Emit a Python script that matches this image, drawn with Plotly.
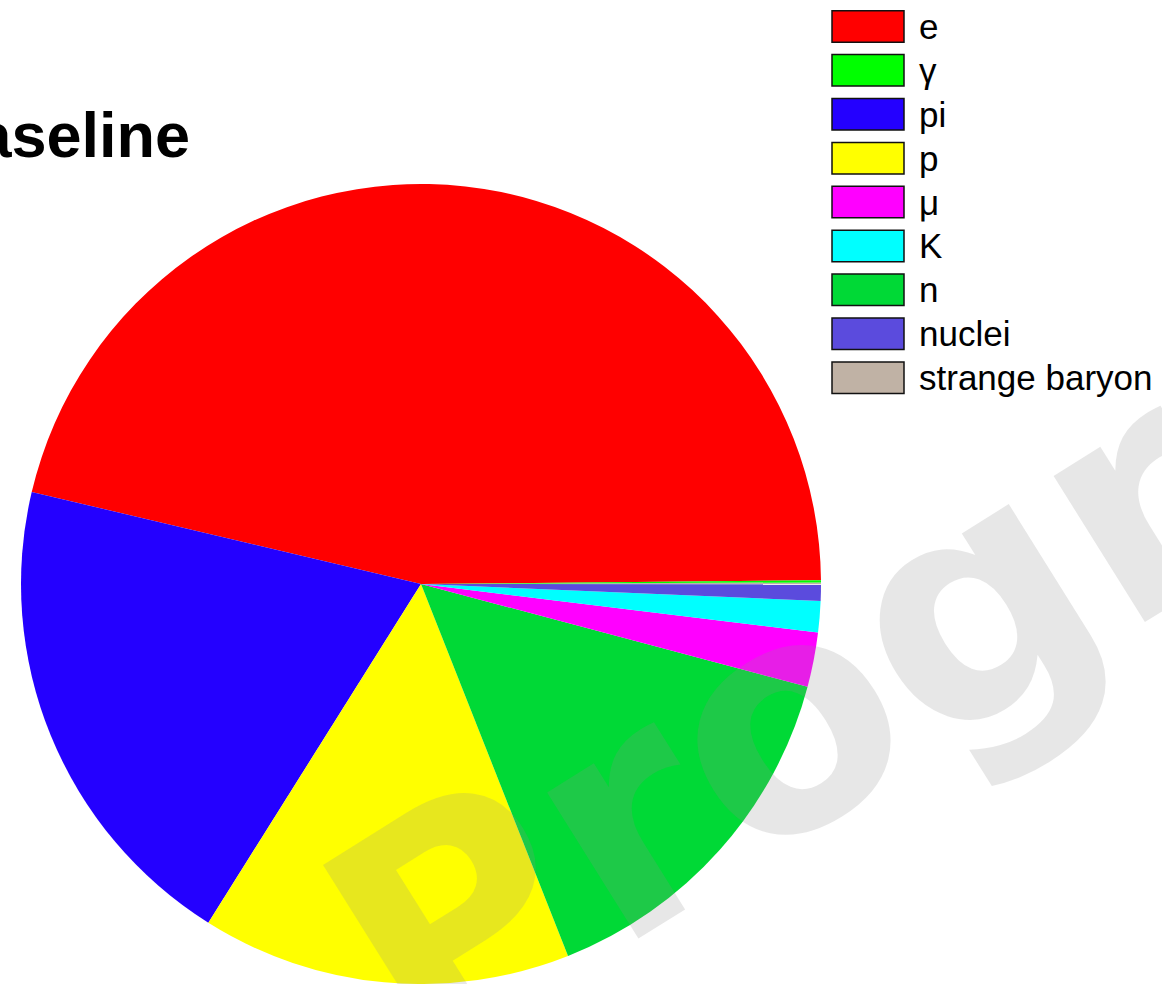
import plotly.graph_objects as go

# Particle species shown in the legend (legend order)
species = ["e", "γ", "pi", "p", "μ", "K", "n", "nuclei", "strange baryon"]
# Share of each species, in percent
shares = [46.17, 0.09, 19.78, 14.92, 2.20, 1.26, 14.88, 0.67, 0.07]
colours = ["#ff0000", "#00ff00", "#2400ff", "#ffff00", "#ff00ff",
           "#00ffff", "#00d936", "#5b4bdd", "#c0b2a5"]
# Order in which the slices are laid out around the pie (counterclockwise)
slice_order = ["e", "pi", "p", "n", "μ", "K", "nuclei", "strange baryon", "γ"]

title_text = "Baseline"
watermark = "Progress"

W, H = 1162, 984


def px_x(x):
    return x / W


def px_y(y):
    return 1 - y / H


share_of = dict(zip(species, shares))
colour_of = dict(zip(species, colours))

# Pie geometry (pixels)
cx, cy, r = 421, 584, 400

fig = go.Figure(
    go.Pie(
        labels=slice_order,
        values=[share_of[s] for s in slice_order],
        marker=dict(colors=[colour_of[s] for s in slice_order], line=dict(width=0)),
        sort=False,
        direction="counterclockwise",
        rotation=-76.7,
        textinfo="none",
        hoverinfo="label+percent",
        showlegend=False,
        domain=dict(x=[px_x(cx - r), px_x(cx + r)], y=[px_y(cy + r), px_y(cy - r)]),
    )
)

shapes = []
annotations = []

# Hand-built legend: coloured boxes with labels, in species order
box_x0, box_x1 = 832, 904
row_top0, row_step, box_h = 10.7, 43.9, 31.5
for i, (name, col) in enumerate(zip(species, colours)):
    top = row_top0 + i * row_step
    shapes.append(dict(
        type="rect", xref="paper", yref="paper",
        x0=px_x(box_x0), x1=px_x(box_x1),
        y0=px_y(top + box_h), y1=px_y(top),
        fillcolor=col, line=dict(color="#111111", width=1.5),
    ))
    annotations.append(dict(
        text=name, xref="paper", yref="paper",
        x=px_x(917), y=px_y(top + box_h / 2),
        xanchor="left", yanchor="middle", showarrow=False,
        font=dict(family="Liberation Sans, Arial, sans-serif", size=35, color="#000000"),
    ))

# Title, running off the left edge
annotations.append(dict(
    text=title_text, xref="paper", yref="paper",
    x=px_x(192), y=px_y(135),
    xanchor="right", yanchor="middle", showarrow=False,
    font=dict(family="Liberation Sans, Arial, sans-serif", size=63,
              color="#000000", weight="bold"),
))

# Semi-transparent watermark across the chart
annotations.append(dict(
    text=watermark, xref="paper", yref="paper",
    x=px_x(1029), y=px_y(566),
    xanchor="center", yanchor="middle", showarrow=False,
    textangle=-32,
    font=dict(family="DejaVu Sans, sans-serif", size=315,
              color="rgba(144,144,144,0.21)", weight="bold"),
))

fig.update_layout(
    width=W, height=H,
    margin=dict(l=0, r=0, t=0, b=0),
    paper_bgcolor="white",
    plot_bgcolor="white",
    shapes=shapes,
    annotations=annotations,
)

fig.write_html("out.html")
